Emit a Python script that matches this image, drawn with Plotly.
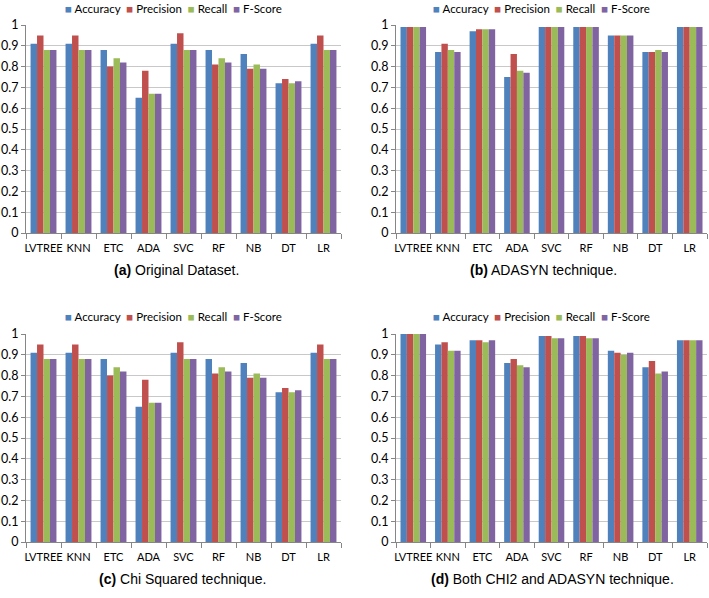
import plotly.graph_objects as go

categories = ["LVTREE", "KNN", "ETC", "ADA", "SVC", "RF", "NB", "DT", "LR"]
metrics = ["Accuracy", "Precision", "Recall", "F-Score"]
colors = ["#4F81BD", "#C0504D", "#9BBB59", "#8064A2"]

# (a) Original Dataset
orig_accuracy = [0.91, 0.91, 0.88, 0.65, 0.91, 0.88, 0.86, 0.72, 0.91]
orig_precision = [0.95, 0.95, 0.80, 0.78, 0.96, 0.81, 0.79, 0.74, 0.95]
orig_recall = [0.88, 0.88, 0.84, 0.67, 0.88, 0.84, 0.81, 0.72, 0.88]
orig_fscore = [0.88, 0.88, 0.82, 0.67, 0.88, 0.82, 0.79, 0.73, 0.88]

# (b) ADASYN technique
ada_accuracy = [0.99, 0.87, 0.97, 0.75, 0.99, 0.99, 0.95, 0.87, 0.99]
ada_precision = [0.99, 0.91, 0.98, 0.86, 0.99, 0.99, 0.95, 0.87, 0.99]
ada_recall = [0.99, 0.88, 0.98, 0.78, 0.99, 0.99, 0.95, 0.88, 0.99]
ada_fscore = [0.99, 0.87, 0.98, 0.77, 0.99, 0.99, 0.95, 0.87, 0.99]

# (c) Chi Squared technique
chi_accuracy = [0.91, 0.91, 0.88, 0.65, 0.91, 0.88, 0.86, 0.72, 0.91]
chi_precision = [0.95, 0.95, 0.80, 0.78, 0.96, 0.81, 0.79, 0.74, 0.95]
chi_recall = [0.88, 0.88, 0.84, 0.67, 0.88, 0.84, 0.81, 0.72, 0.88]
chi_fscore = [0.88, 0.88, 0.82, 0.67, 0.88, 0.82, 0.79, 0.73, 0.88]

# (d) Both CHI2 and ADASYN technique
both_accuracy = [1.00, 0.95, 0.97, 0.86, 0.99, 0.99, 0.92, 0.84, 0.97]
both_precision = [1.00, 0.96, 0.97, 0.88, 0.99, 0.99, 0.91, 0.87, 0.97]
both_recall = [1.00, 0.92, 0.96, 0.85, 0.98, 0.98, 0.90, 0.81, 0.97]
both_fscore = [1.00, 0.92, 0.97, 0.84, 0.98, 0.98, 0.91, 0.82, 0.97]

captions = [
    ("(a)", "Original Dataset."),
    ("(b)", "ADASYN technique."),
    ("(c)", "Chi Squared technique."),
    ("(d)", "Both CHI2 and ADASYN technique."),
]

panels = [
    [orig_accuracy, orig_precision, orig_recall, orig_fscore],
    [ada_accuracy, ada_precision, ada_recall, ada_fscore],
    [chi_accuracy, chi_precision, chi_recall, chi_fscore],
    [both_accuracy, both_precision, both_recall, both_fscore],
]

W, H = 709, 598
FONT = "Lato"
XFS = 11
YFS = 12.5

# pixel boxes: (left, right, top, bottom)
boxes = [
    (26, 341, 25, 233),
    (396, 707, 25, 233),
    (26, 341, 334, 542),
    (396, 707, 334, 542),
]
legend_centers = [173, 541, 173, 541]
legend_tops = [0, 0, 308, 308]
caption_centers = [176, 543, 182, 552]

fig = go.Figure()
layout = dict(
    width=W, height=H,
    margin=dict(l=0, r=0, t=0, b=0, pad=0, autoexpand=False),
    paper_bgcolor="white", plot_bgcolor="white",
    barmode="group", bargap=0.26, bargroupgap=0,
    font=dict(family=FONT, size=YFS, color="#000000"),
    showlegend=False,
    annotations=[],
)

legend_text = "  ".join(
    f'<span style="color:{c}">\u25A0</span> {m}' for m, c in zip(metrics, colors)
)

for i, (vals, box) in enumerate(zip(panels, boxes)):
    n = i + 1
    xa = "x" if n == 1 else f"x{n}"
    ya = "y" if n == 1 else f"y{n}"
    for m, c, v in zip(metrics, colors, vals):
        fig.add_trace(go.Bar(
            x=categories, y=v, name=m, marker=dict(color=c, line=dict(width=0)),
            xaxis=xa, yaxis=ya, hoverinfo="skip",
        ))
    l, r, t, b = box
    xdom = [l / W, r / W]
    ydom = [1 - b / H, 1 - t / H]
    xkey = "xaxis" if n == 1 else f"xaxis{n}"
    ykey = "yaxis" if n == 1 else f"yaxis{n}"
    layout[xkey] = dict(
        domain=xdom, anchor=ya, type="category", automargin=False,
        showline=True, linecolor="#868686", linewidth=1,
        ticks="outside", tickson="boundaries", ticklen=5, tickcolor="#868686",
        ticklabelstandoff=5,
        showgrid=False, tickangle=0, tickfont=dict(size=XFS, family=FONT),
    )
    layout[ykey] = dict(
        domain=ydom, anchor=xa, range=[0, 1], automargin=False,
        tickvals=[k / 10 for k in range(11)],
        ticktext=["0", "0.1", "0.2", "0.3", "0.4", "0.5", "0.6", "0.7", "0.8", "0.9", "1"],
        showline=True, linecolor="#868686", linewidth=1,
        ticks="outside", ticklen=4, tickcolor="#868686",
        showgrid=True, gridcolor="#C8C8C8", gridwidth=1,
        zeroline=False, tickfont=dict(size=YFS, family=FONT),
    )
    layout["annotations"].append(dict(
        text=legend_text, x=legend_centers[i] / W, y=1 - legend_tops[i] / H,
        xref="paper", yref="paper", xanchor="center", yanchor="top",
        showarrow=False, font=dict(size=11.5, family=FONT, color="#000"),
    ))
    lab, txt = captions[i]
    cap_y = b + 37
    layout["annotations"].append(dict(
        text=f"<b>{lab}</b> {txt}", x=caption_centers[i] / W,
        y=1 - cap_y / H, xref="paper", yref="paper",
        xanchor="center", yanchor="middle", showarrow=False,
        font=dict(size=14, family="Liberation Sans Narrow, Arial Narrow, Liberation Sans", color="#000"),
    ))

fig.update_layout(**layout)
fig.write_html(
    "out.html",
    config={"displayModeBar": False, "staticPlot": True},
    post_script=(
        "document.documentElement.style.margin='0';"
        "document.body.style.margin='0';"
        "document.body.style.overflow='hidden';"
        "var d=document.getElementsByClassName('plotly-graph-div')[0];"
        "d.style.position='fixed';d.style.left='0px';d.style.top='0px';"
    ),
)
